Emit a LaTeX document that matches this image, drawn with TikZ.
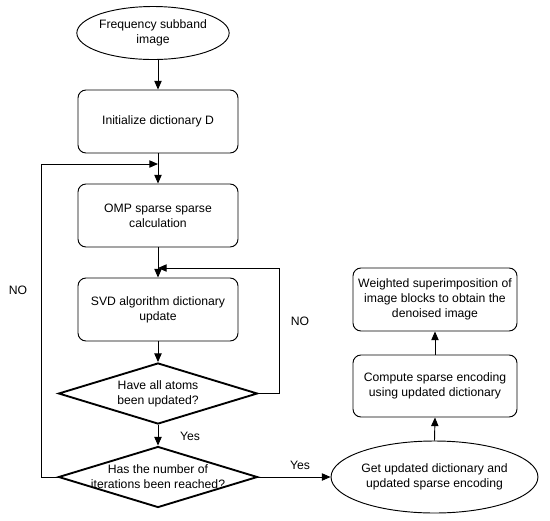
\documentclass[tikz,border=0pt]{standalone}
\usepackage{fontspec}
\setmainfont{Liberation Sans}
\usetikzlibrary{arrows.meta,positioning,shapes.geometric}

\begin{document}
\begin{tikzpicture}[x=0.03cm,y=-0.03cm,>={Triangle[length=2.6mm,width=2.2mm]},
  line width=0.8pt,
  box/.style={draw,rounded corners=0.24cm,minimum width=4.8cm,minimum height=1.89cm,align=center,font=\fontsize{10.4}{12.8}\selectfont,inner sep=2pt},
  oval/.style={draw,ellipse,inner sep=0pt,align=center,font=\fontsize{10.4}{12.8}\selectfont},
  choice/.style={draw,diamond,line width=1.6pt,minimum width=5.97cm,minimum height=1.83cm,inner sep=0pt},
  tag/.style={font=\fontsize{10.4}{12}\selectfont}]
\useasboundingbox (0,0) rectangle (550,520);
\node[oval,minimum width=3.9cm,minimum height=1.59cm] (start) at (153,33) {Frequency subband\\image};
\node[box] (init) at (158,121.5) {Initialize dictionary D};
\node[box] (omp) at (158,215.5) {OMP sparse sparse\\calculation};
\node[box] (svd) at (158,309.5) {SVD algorithm dictionary\\update};
\node[choice,label={[font=\fontsize{10.4}{12.8}\selectfont,align=center]center:Have all atoms\\been updated?}] (d1) at (158,393.5) {};
\node[choice,label={[font=\fontsize{10.4}{12.8}\selectfont,align=center]center:Has the number of\\iterations been reached?}] (d2) at (158,477) {};
\node[oval,minimum width=5.13cm,minimum height=2.16cm] (finish) at (434.5,477) {Get updated dictionary and\\updated sparse encoding};
\node[box,minimum width=4.92cm,minimum height=1.86cm] (encode) at (435,386) {Compute sparse encoding\\using updated dictionary};
\node[box,minimum width=4.92cm,minimum height=1.89cm] (blend) at (435,299.5) {Weighted superimposition of\\image blocks to obtain the\\denoised image};
\coordinate (lj) at (158,164);
\coordinate (nl) at (41,164);
\coordinate (ij) at (158,268);
\coordinate (nr) at (279,268);
\draw[->] (init.north |- start.south)--(init.north);
\draw[->] (init.south)--(omp.north);
\draw[->] (omp.south)--(svd.north);
\draw[->] (svd.south)--(d1.north);
\draw[->] (d1.south)--(d2.north);
\draw[->] (d2.west)--(d2.west -| nl)--(nl)--(lj);
\draw[->] (d1.east)-|(nr)--(ij);
\draw[->] (d2.east)--(finish.west);
\draw[->] (finish.north)--(encode.south);
\draw[->] (encode.north)--(blend.south);
\node[tag] (no1) at (18,290) {NO};
\node[tag] (no2) at (300,321) {NO};
\node[tag] (yes1) at (190,436) {Yes};
\node[tag] (yes2) at (300,465) {Yes};
\end{tikzpicture}
\end{document}
